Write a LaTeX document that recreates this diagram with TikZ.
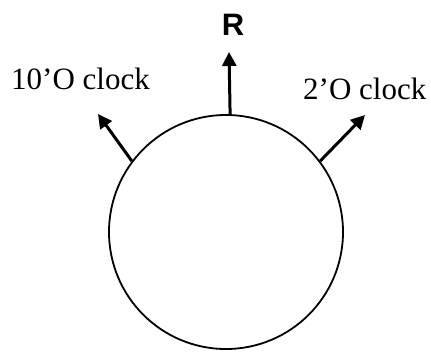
\documentclass[tikz,border=0pt]{standalone}
\usepackage{fontspec}
\setmainfont{Liberation Serif}
\setsansfont{Liberation Sans}
\usetikzlibrary{arrows.meta,positioning}
\tikzset{
  wheelbody/.style={circle, draw=black, line width=1.8pt, inner sep=0pt, minimum size=234pt},
  dirarr/.style={-{Triangle[length=14pt, width=14pt]}, line width=3pt, draw=black},
  clocklbl/.style={inner sep=0pt, font=\fontsize{31}{36}\selectfont},
  axislbl/.style={inner sep=0pt, font=\fontsize{31}{36}\selectfont\sffamily\bfseries},
}
\begin{document}
\begin{tikzpicture}[x=1pt, y=-1pt]
  \useasboundingbox (0,0) rectangle (431,351);
  \node[wheelbody] (wheel) at (226,232) {};
  \coordinate (rtip) at (229,52);
  \coordinate (tentip) at (98,114);
  \coordinate (twotip) at (365,115);
  \draw[dirarr] (wheel.88) -- (rtip);
  \draw[dirarr] (wheel.143) -- (tentip);
  \draw[dirarr] (wheel.37) -- (twotip);
  \node[axislbl, anchor=base] (rlbl) at (233,35) {R};
  \node[clocklbl, anchor=base west] (tenlbl) at (11,89) {10’O clock};
  \node[clocklbl, anchor=base west] (twolbl) at (303,99) {2’O clock};
\end{tikzpicture}
\end{document}
